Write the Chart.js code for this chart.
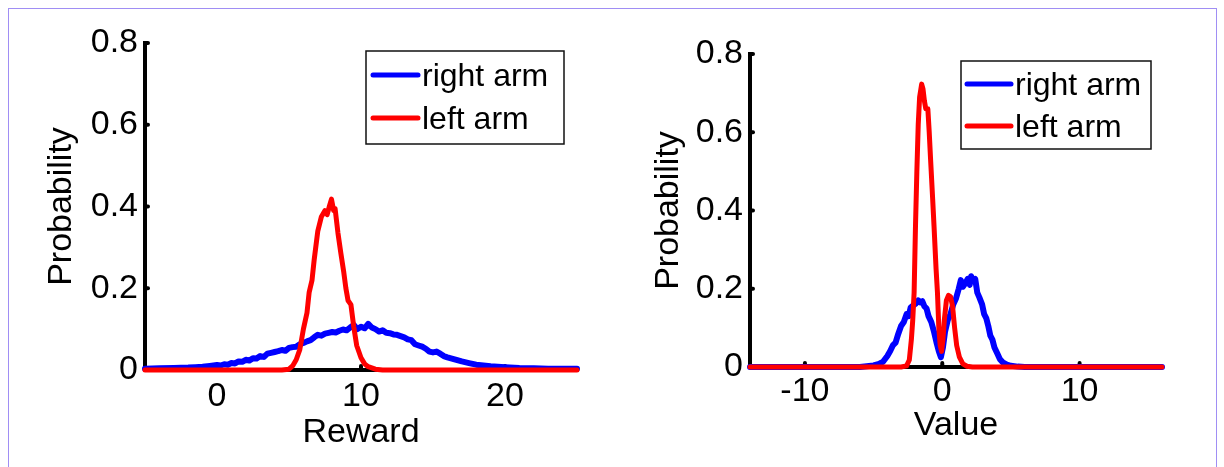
<!DOCTYPE html>
<html><head><meta charset="utf-8">
<script src="https://cdn.jsdelivr.net/npm/chart.js@4"></script>
<style>
html,body{margin:0;padding:0;background:#fff;width:1224px;height:467px;overflow:hidden;position:relative;}
#frame{position:absolute;left:8px;top:8px;width:1209px;height:500px;border:1.5px solid #a08ef4;box-sizing:border-box;}
canvas{position:absolute;top:0;}
#c1{left:0;} #c2{left:612px;}
</style></head><body>
<div id="frame"></div>
<canvas id="c1" width="612" height="467"></canvas>
<canvas id="c2" width="612" height="467"></canvas>
<script>
// ---------- DATA ----------
const seriesLabels = ['right arm', 'left arm'];

// Left panel (Reward)
const rewardTicksX = [0, 10, 20];
const rewardTicksY = [0, 0.2, 0.4, 0.6, 0.8];
const rewardRightX = [-5,-4,-3,-2,-1.5,-1,-0.5,0,0.25,0.5,0.75,1,1.25,1.5,1.75,2,2.25,2.5,2.75,3,3.25,3.5,3.75,4,4.25,4.5,4.75,5,5.25,5.5,5.75,6,6.25,6.5,6.75,7,7.25,7.5,7.75,8,8.25,8.5,8.75,9,9.25,9.5,9.75,10,10.25,10.5,10.75,11,11.25,11.5,11.75,12,12.25,12.5,12.75,13,13.25,13.5,13.75,14,14.25,14.5,14.75,15,15.25,15.5,15.75,16,16.5,17,17.5,18,18.5,19,19.5,20,21,22,23,25];
const rewardRightY = [0.003,0.004,0.005,0.006,0.007,0.008,0.010,0.012,0.011,0.014,0.013,0.017,0.016,0.021,0.020,0.025,0.023,0.029,0.028,0.034,0.032,0.040,0.042,0.044,0.046,0.049,0.047,0.054,0.056,0.057,0.063,0.066,0.070,0.073,0.080,0.086,0.084,0.089,0.091,0.093,0.092,0.096,0.099,0.097,0.104,0.110,0.100,0.106,0.102,0.113,0.104,0.100,0.094,0.097,0.091,0.090,0.087,0.086,0.083,0.080,0.075,0.073,0.063,0.060,0.057,0.052,0.045,0.043,0.045,0.040,0.034,0.031,0.026,0.021,0.017,0.013,0.011,0.009,0.008,0.007,0.005,0.004,0.003,0.003];
const rewardLeftX = [-5,4.5,5.0,5.25,5.5,5.75,6.0,6.25,6.4,6.6,6.75,7.0,7.25,7.5,7.65,7.8,7.95,8.1,8.2,8.4,8.6,8.8,8.95,9.1,9.3,9.5,9.7,10.0,10.25,10.5,11.0,11.5,25];
const rewardLeftY = [0,0,0.002,0.01,0.025,0.05,0.10,0.14,0.19,0.22,0.27,0.34,0.375,0.39,0.38,0.40,0.418,0.39,0.395,0.335,0.286,0.24,0.20,0.17,0.16,0.105,0.06,0.03,0.015,0.008,0.002,0,0];

// Right panel (Value)
const valueTicksX = [-10, 0, 10];
const valueTicksY = [0, 0.2, 0.4, 0.6, 0.8];
const valueRightX = [-14,-6,-5.5,-5.0,-4.6,-4.3,-4.0,-3.8,-3.6,-3.4,-3.2,-3.0,-2.8,-2.6,-2.45,-2.3,-2.1,-1.9,-1.75,-1.6,-1.45,-1.3,-1.15,-1.0,-0.8,-0.6,-0.4,-0.25,-0.1,0.05,0.2,0.4,0.6,0.8,1.0,1.2,1.35,1.5,1.7,1.85,2.0,2.1,2.25,2.4,2.55,2.7,2.9,3.05,3.2,3.35,3.5,3.65,3.8,4.0,4.2,4.4,4.7,5.0,5.5,6.0,16];
const valueRightY = [0,0,0.002,0.004,0.008,0.014,0.028,0.040,0.055,0.062,0.085,0.105,0.115,0.135,0.130,0.152,0.158,0.163,0.170,0.165,0.168,0.155,0.150,0.130,0.115,0.090,0.060,0.040,0.025,0.050,0.090,0.120,0.135,0.160,0.175,0.200,0.222,0.205,0.215,0.225,0.210,0.232,0.220,0.225,0.190,0.178,0.160,0.135,0.125,0.105,0.080,0.070,0.050,0.035,0.020,0.012,0.006,0.003,0.001,0,0];
const valueLeftX = [-14,-3.0,-2.6,-2.4,-2.25,-2.15,-2.05,-1.95,-1.85,-1.75,-1.65,-1.5,-1.4,-1.3,-1.2,-1.05,-0.95,-0.85,-0.7,-0.6,-0.45,-0.35,-0.25,-0.15,-0.05,0.05,0.15,0.3,0.45,0.6,0.75,0.9,1.05,1.25,1.5,1.8,2.2,16];
const valueLeftY = [0,0,0.003,0.018,0.07,0.12,0.19,0.36,0.50,0.62,0.69,0.723,0.71,0.68,0.66,0.66,0.60,0.53,0.43,0.36,0.25,0.19,0.10,0.055,0.04,0.07,0.12,0.17,0.183,0.18,0.155,0.10,0.055,0.025,0.008,0.002,0,0];

// ---------- DRAWING ----------
const FONT = '"Liberation Sans", Arial, Helvetica, sans-serif';
const pts = (xs, ys) => xs.map((x, i) => ({x, y: ys[i]}));

const decor = {
  id: 'decor',
  beforeDatasetsDraw(chart) {
    const ctx = chart.ctx, xs = chart.scales.x, ys = chart.scales.y;
    const y0 = ys.getPixelForValue(0), x0 = xs.left;
    ctx.save();
    ctx.strokeStyle = '#000'; ctx.lineWidth = 4; ctx.lineCap = 'round';
    ys.ticks.forEach(t => { const py = ys.getPixelForValue(t.value); ctx.beginPath(); ctx.moveTo(x0, py); ctx.lineTo(x0 + 3, py); ctx.stroke(); });
    xs.ticks.forEach(t => { const px = xs.getPixelForValue(t.value); ctx.beginPath(); ctx.moveTo(px, y0); ctx.lineTo(px, y0 - 4); ctx.stroke(); });
    ctx.restore();
  },
  afterDatasetsDraw(chart, args, opts) {
    const L = opts.box; if (!L) return;
    const ctx = chart.ctx;
    ctx.save();
    ctx.fillStyle = '#fff'; ctx.fillRect(L.x, L.y, L.w, L.h);
    ctx.strokeStyle = '#111'; ctx.lineWidth = 1.5; ctx.strokeRect(L.x, L.y, L.w, L.h);
    chart.data.datasets.forEach((ds, i) => {
      const yy = L.rows[i];
      ctx.strokeStyle = ds.borderColor; ctx.lineWidth = 5; ctx.lineCap = 'round';
      ctx.beginPath(); ctx.moveTo(L.lx1, yy); ctx.lineTo(L.lx2, yy); ctx.stroke();
      ctx.fillStyle = '#000'; ctx.font = L.size + 'px ' + FONT; ctx.textBaseline = 'middle'; ctx.textAlign = 'left';
      ctx.fillText(ds.label, L.tx, yy + 2);
    });
    ctx.restore();
  }
};

function makeChart(id, cfg) {
  const tickFont = {family: FONT, size: 34};
  return new Chart(document.getElementById(id), {
    type: 'line',
    data: {
      datasets: [
        {label: seriesLabels[0], data: pts(cfg.bx, cfg.by), borderColor: '#0000ff', borderWidth: 6, order: 2},
        {label: seriesLabels[1], data: pts(cfg.rx, cfg.ry), borderColor: '#ff0000', borderWidth: 5, order: 1}
      ]
    },
    options: {
      responsive: false, animation: false, events: [],
      parsing: false,
      elements: {point: {radius: 0}, line: {tension: 0, borderJoinStyle: 'round', borderCapStyle: 'round', fill: false}},
      datasets: {line: {clip: false}},
      layout: {padding: cfg.pad},
      plugins: {legend: {display: false}, tooltip: {enabled: false}, decor: {box: cfg.legend}},
      scales: {
        x: {
          type: 'linear', min: cfg.xmin, max: cfg.xmax,
          afterBuildTicks: a => { a.ticks = cfg.xticks.map(v => ({value: v})); },
          afterFit: s => { s.height = cfg.xh; },
          ticks: {font: tickFont, color: '#000', padding: cfg.xtp, maxRotation: 0, autoSkip: false},
          grid: {display: false, drawTicks: false},
          border: {display: true, color: '#000', width: 4},
          title: {display: true, text: cfg.xtitle, font: tickFont, color: '#000', padding: {top: 0, bottom: cfg.xtitlePad}}
        },
        y: {
          type: 'linear', min: 0, max: 0.8,
          afterBuildTicks: a => { a.ticks = cfg.yticks.map(v => ({value: v})); },
          afterFit: s => { s.width = cfg.yw; },
          ticks: {font: tickFont, color: '#000', padding: 7, autoSkip: false},
          grid: {display: false, drawTicks: false},
          border: {display: true, color: '#000', width: 4},
          title: {display: true, text: 'Probability', font: tickFont, color: '#000', padding: {top: cfg.ytitlePad, bottom: 0}}
        }
      }
    },
    plugins: [decor]
  });
}

makeChart('c1', {
  bx: rewardRightX, by: rewardRightY, rx: rewardLeftX, ry: rewardLeftY,
  xmin: -5, xmax: 25, xticks: rewardTicksX, yticks: rewardTicksY,
  xtitle: 'Reward', pad: {top: 43, right: 35, bottom: 0, left: 0},
  xh: 97, yw: 145, xtp: 6, xtitlePad: 14, ytitlePad: 41,
  legend: {x: 366, y: 51, w: 198, h: 93, lx1: 373, lx2: 418, tx: 422, rows: [75, 118], size: 32}
});
makeChart('c2', {
  bx: valueRightX, by: valueRightY, rx: valueLeftX, ry: valueLeftY,
  xmin: -14, xmax: 16, xticks: valueTicksX, yticks: valueTicksY,
  xtitle: 'Value', pad: {top: 54, right: 62, bottom: 0, left: 0},
  xh: 100, yw: 138, xtp: 4, xtitlePad: 21, ytitlePad: 36,
  legend: {x: 349, y: 61, w: 190, h: 88, lx1: 355, lx2: 399, tx: 403, rows: [84, 126], size: 32}
});
</script>
</body></html>
